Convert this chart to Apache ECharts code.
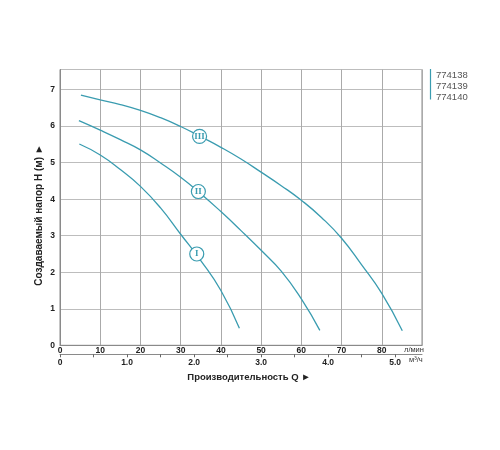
<!DOCTYPE html>
<html>
<head>
<meta charset="utf-8">
<script src="https://cdn.jsdelivr.net/npm/echarts@6/dist/echarts.min.js"></script>
<style>html,body{margin:0;padding:0;background:#fff;}#c{width:500px;height:450px;}</style>
</head>
<body>
<div id="c"></div>
<script>
// Flow Q (l/min) vs head H (m)
const curveI = [[4.8,5.51],[10,5.21],[15,4.81],[20,4.35],[25,3.76],[30,3.04],[35,2.32],[40,1.5],[44.6,0.47]];
const curveII = [[4.7,6.15],[10,5.89],[15,5.63],[20,5.35],[25,4.99],[30,4.6],[35,4.15],[40,3.66],[45,3.14],[50,2.6],[55,2.03],[60,1.27],[64.6,0.41]];
const curveIII = [[5.2,6.85],[10,6.72],[15,6.59],[20,6.43],[25,6.23],[30,5.99],[35,5.71],[40,5.42],[45,5.1],[50,4.74],[55,4.37],[60,3.97],[65,3.5],[70,2.93],[75,2.2],[80,1.42],[85.1,0.4]];
const circleMarks = [[34.0,2.5],[34.4,4.21],[34.7,5.72]];
const circleLabels = ['I','II','III'];
const legendLabels = ['774138','774139','774140'];
const lpmMax = 90;          // l/min axis extent
const m3hMax = lpmMax * 60 / 1000; // same extent in m³/h
const headMax = 7.55;

const TEAL = '#3a9cb0';
const FONT = 'Liberation Sans, Arial, sans-serif';

const chart = echarts.init(document.getElementById('c'), null, {renderer: 'canvas'});

const lineSeries = [curveI, curveII, curveIII].map((d, i) => ({
  name: legendLabels[i],
  type: 'line',
  data: d,
  smooth: 0.5,
  symbol: 'none',
  lineStyle: {color: TEAL, width: 1.3},
  itemStyle: {color: TEAL},
  z: 3
}));

chart.setOption({
  animation: false,
  backgroundColor: '#fff',
  textStyle: {fontFamily: FONT},
  grid: {left: 60, right: 78, top: 69.5, bottom: 104.7, show: true, borderColor: '#8a8a8a', borderWidth: 1},
  legend: {
    orient: 'vertical', left: 430, top: 70.5, itemGap: 1, itemWidth: 1, itemHeight: 9,
    icon: 'rect', padding: 0, selectedMode: false,
    itemStyle: {opacity: 0}, lineStyle: {opacity: 0},
    textStyle: {fontSize: 9.5, color: '#555', fontFamily: FONT, padding: [0,0,0,0]},
    data: legendLabels
  },
  xAxis: [{
    type: 'value', min: 0, max: lpmMax, interval: 10, position: 'bottom',
    axisLine: {show: true, lineStyle: {color: '#8a8a8a', width: 1}},
    axisTick: {show: false},
    axisLabel: {fontSize: 8.5, fontWeight: 'bold', color: '#222', margin: 1, showMaxLabel: false},
    splitLine: {show: true, lineStyle: {color: '#aaaaaa', width: 1}}
  }, {
    type: 'value', min: 0, max: m3hMax, interval: 0.5, position: 'bottom', offset: 9,
    axisLine: {show: true, onZero: false, lineStyle: {color: '#8a8a8a', width: 1}},
    axisTick: {show: true, length: 3, lineStyle: {color: '#666'}},
    axisLabel: {fontSize: 8.5, fontWeight: 'bold', color: '#222', margin: 4, showMaxLabel: false,
      formatter: v => (Math.abs(v - Math.round(v)) < 1e-6) ? (v === 0 ? '0' : v.toFixed(1)) : ''},
    splitLine: {show: false}
  }],
  yAxis: {
    type: 'value', min: 0, max: headMax, interval: 1,
    axisLine: {show: true, lineStyle: {color: '#8a8a8a', width: 1}},
    axisTick: {show: false},
    axisLabel: {fontSize: 8.5, fontWeight: 'bold', color: '#222', margin: 5, showMaxLabel: false,
      formatter: v => Number.isInteger(v) ? String(v) : ''},
    splitLine: {show: true, lineStyle: {color: '#bdbdbd', width: 1.2}}
  },
  series: lineSeries.concat([{
    type: 'scatter',
    data: circleMarks.map((p, i) => ({value: p, label: {formatter: circleLabels[i]}})),
    symbol: 'circle', symbolSize: 14,
    itemStyle: {color: '#fff', borderColor: TEAL, borderWidth: 1.2, opacity: 1},
    label: {show: true, position: 'inside', color: TEAL, fontSize: 9, fontWeight: 'bold',
      fontFamily: 'Liberation Serif, serif'},
    z: 5
  }]),
  graphic: [
    {type: 'line', shape: {x1: 430.5, y1: 69, x2: 430.5, y2: 99.5}, style: {stroke: TEAL, lineWidth: 1.2}},
    {type: 'text', left: 404, top: 345.5, style: {text: 'л/мин', fontSize: 7.5, fill: '#333', fontFamily: FONT}},
    {type: 'text', left: 409, top: 355.5, style: {text: 'м³/ч', fontSize: 7.5, fill: '#333', fontFamily: FONT}},
    {type: 'text', x: 249, y: 377, style: {text: 'Производительность Q ►', fontSize: 9.5, fontWeight: 'bold',
      fill: '#222', fontFamily: FONT, align: 'center', verticalAlign: 'middle'}},
    {type: 'text', x: 39, y: 215, rotation: Math.PI / 2, style: {text: 'Создаваемый напор H (м) ►', fontSize: 10,
      fontWeight: 'bold', fill: '#222', fontFamily: FONT, align: 'center', verticalAlign: 'middle'}}
  ]
});
</script>
</body>
</html>
